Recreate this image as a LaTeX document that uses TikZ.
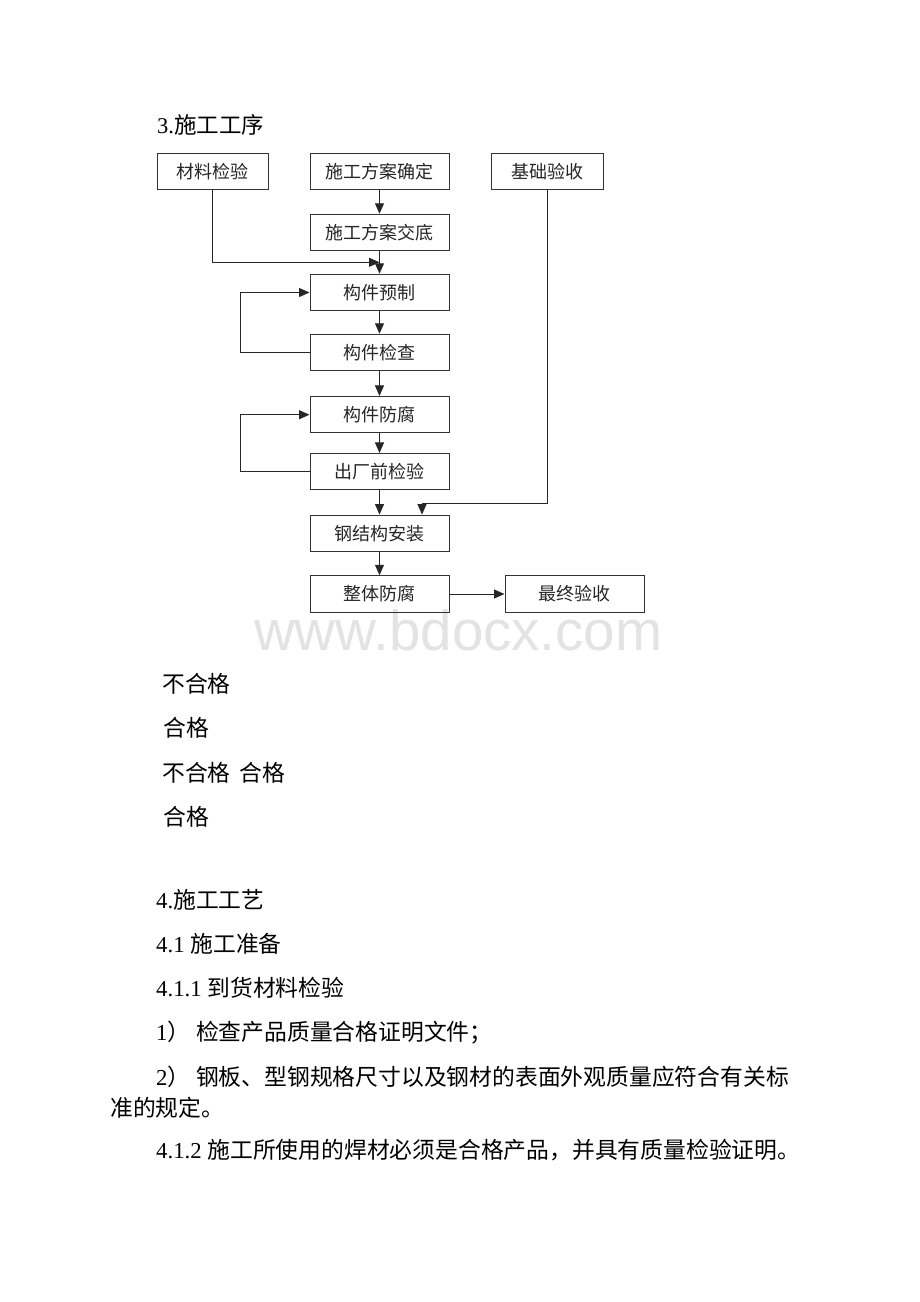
\documentclass[tikz,border=0pt]{standalone}
\usepackage{fontspec}
\setmainfont{Liberation Serif}
\newfontfamily\cjk{Noto Sans CJK SC}
\newfontfamily\wmfont{Liberation Sans}
\newcommand\zhs[1]{{\cjk #1}}
\usetikzlibrary{arrows.meta}
\begin{document}
\begin{tikzpicture}[x=1pt,y=-1pt,
  box/.style={draw=black!80, line width=1pt, minimum height=36.5pt, inner sep=0pt,
    font=\cjk\fontsize{18}{18}\selectfont, text=black!85},
  arr/.style={draw=black!85, line width=1pt, -{Triangle[length=10.5pt,width=9pt]}},
  body/.style={anchor=base west, inner sep=0pt, font=\fontsize{22.8}{22.8}\selectfont}
]
\useasboundingbox[fill=white] (0,0) rectangle (920,1302);

% watermark
\node[anchor=base west, inner sep=0pt, text=black!11, font=\wmfont\fontsize{56.5}{56.5}\selectfont] (wm) at (254,650) {www.bdocx.com};

% boxes
\node[box, minimum width=111pt] (cl) at (212.5,171.5) {材料检验};
\node[box, minimum width=139pt] (fa) at (379.5,171.5) {施工方案确定};
\node[box, minimum width=112pt] (jc) at (547,171.5) {基础验收};
\node[box, minimum width=139pt] (jd) at (379.5,232.5) {施工方案交底};
\node[box, minimum width=139pt] (yz) at (379.5,292.5) {构件预制};
\node[box, minimum width=139pt] (jch) at (379.5,352.5) {构件检查};
\node[box, minimum width=139pt] (ff) at (379.5,414.7) {构件防腐};
\node[box, minimum width=139pt] (cc) at (379.5,471.7) {出厂前检验};
\node[box, minimum width=139pt] (az) at (379.5,533.3) {钢结构安装};
\node[box, minimum width=139pt] (zt) at (379.5,594) {整体防腐};
\node[box, minimum width=139pt] (zz) at (574.5,594) {最终验收};

% connectors
\coordinate (m) at (379.5,262.3);
\coordinate (l1) at (240,0);
\coordinate (jt) at (422,503.3);
\draw[arr] (fa) -- (jd);
\draw[arr] (cl.south) |- (m);
\draw[arr] (jd) -- (yz);
\draw[arr] (yz) -- (jch);
\draw[arr] (jch.west) -- (jch.west -| l1) |- (yz.west);
\draw[arr] (jch) -- (ff);
\draw[arr] (ff) -- (cc);
\draw[arr] (cc.west) -- (cc.west -| l1) |- (ff.west);
\draw[arr] (cc) -- (az);
\draw[arr] (jc.south) |- (jt) -- (jt |- az.north);
\draw[arr] (az) -- (zt);
\draw[arr] (zt) -- (zz);

% text
\node[body, font=\fontsize{22.5}{22.5}\selectfont] (t3) at (157,133.5) {3.\zhs{施工工序}};
\node[body] (u1) at (162,692) {\zhs{不合格}};
\node[body] (u2) at (163,736) {\zhs{合格}};
\node[body] (u3) at (162,781) {\zhs{不合格}\hspace{9pt}\zhs{合格}};
\node[body] (u4) at (163,825) {\zhs{合格}};

\node[body] (s4) at (156,908.5) {4.\zhs{施工工艺}};
\node[body] (s41) at (156,952.5) {4.1 \zhs{施工准备}};
\node[body] (s411) at (156,996.5) {4.1.1 \zhs{到货材料检验}};
\node[body] (p1) at (156,1040.5) {1\zhs{）} \zhs{检查产品质量合格证明文件；}};
\node[body] (p2) at (156,1085) {2\zhs{）} \zhs{钢板、型钢规格尺寸以及钢材的表面外观质量应符合有关标}};
\node[body] (p2b) at (110,1116.5) {\zhs{准的规定。}};
\node[body] (s412) at (156,1158.5) {4.1.2 \zhs{施工所使用的焊材必须是合格产品，并具有质量检验证明。}};
\end{tikzpicture}
\end{document}
